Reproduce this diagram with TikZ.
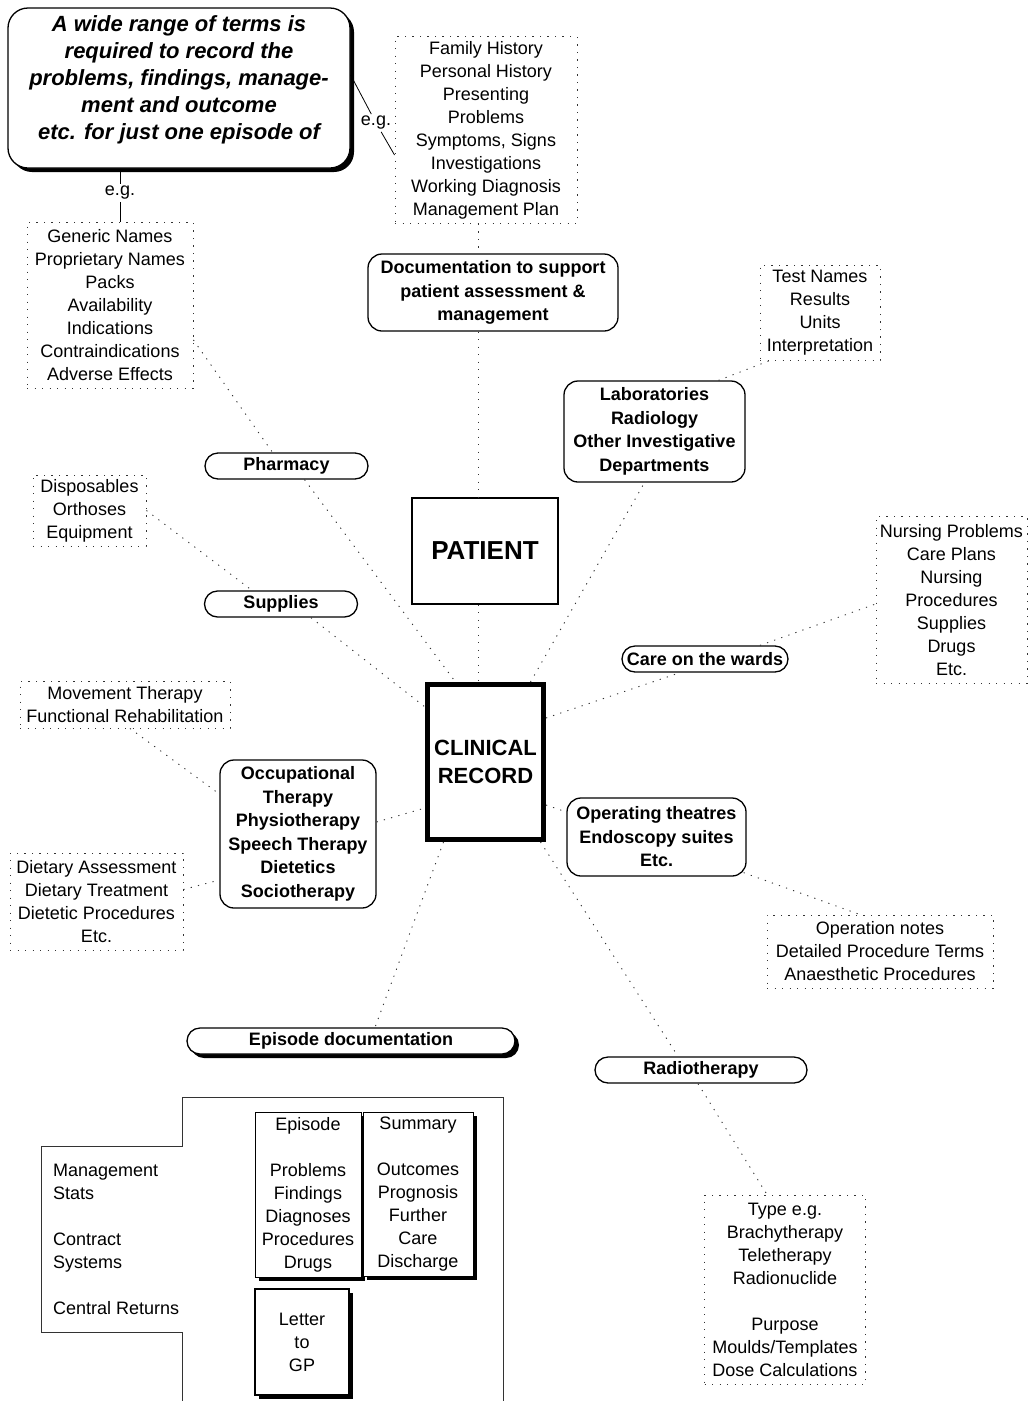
\documentclass[tikz,border=0pt]{standalone}
\usepackage{fontspec}
\setmainfont{Liberation Sans}
\usetikzlibrary{calc,shadows}
\newcommand\plaintext{\fontsize{18}{23}\selectfont}
\newcommand\boldtext{\fontsize{18}{23.5}\selectfont\bfseries}
\tikzset{
  dotbox/.style={draw=black!80, line width=0.9pt, dash pattern=on 1.2pt off 6.3pt, align=center, inner sep=0pt, font=\plaintext},
  dotline/.style={draw=black!80, line width=0.9pt, dash pattern=on 1.2pt off 6.3pt},
  roundbox/.style={draw, line width=1.3pt, rounded corners=14pt, align=center, inner sep=0pt, font=\boldtext},
  pill/.style={draw, line width=1.3pt, rounded corners=13pt, minimum height=26pt, inner sep=0pt, font=\boldtext},
  blackshadow/.style={fill=white, drop shadow={shadow xshift=4pt, shadow yshift=-4pt, fill=black, opacity=1}},
  shadowbox/.style={draw, line width=1pt, align=center, inner sep=0pt, font=\plaintext, blackshadow},
}
\begin{document}
\begin{tikzpicture}[x=1pt,y=-1pt]
\useasboundingbox (0,0) rectangle (1029,1401);
\coordinate (axis) at (478,0);
\node (head) [draw, line width=1.3pt, rounded corners=20pt, blackshadow, minimum width=342pt, minimum height=160pt, inner sep=0pt, align=center, font=\fontsize{22}{27}\selectfont\bfseries\itshape] at (179,88) {A wide range of terms is\\required to record the\\problems, findings, manage-\\ment and outcome\\etc. for just one episode of\\[-6pt]\mbox{}};
\node (eg1) [font=\plaintext, inner sep=2pt] at (376,123) {e.g.};
\node (eg2) [font=\plaintext, inner sep=2pt] at (120,193) {e.g.};
\node (fam) [dotbox, minimum width=182pt, minimum height=187pt] at (486,130) {Family History\\Personal History\\Presenting\\Problems\\Symptoms, Signs\\Investigations\\Working Diagnosis\\Management Plan};
\node (gen) [dotbox, minimum width=166pt, minimum height=166pt] at (110,305) {Generic Names\\Proprietary Names\\Packs\\Availability\\Indications\\Contraindications\\Adverse Effects};
\node (doc) [roundbox, minimum width=250pt, minimum height=77pt] at (493,292.5) {Documentation to support\\patient assessment \&\\management};
\node (test) [dotbox, minimum width=120pt, minimum height=95pt] at (820,312.5) {Test Names\\Results\\Units\\Interpretation};
\node (lab) [roundbox, minimum width=181pt, minimum height=101pt] at (654.5,431.5) {Laboratories\\Radiology\\Other Investigative\\Departments};
\node (pharm) [pill, minimum width=163pt] at (286.5,466) {Pharmacy};
\node (disp) [dotbox, minimum width=113pt, minimum height=71pt] at (89.5,510.5) {Disposables\\Orthoses\\Equipment};
\node (pat) [draw, line width=1.5pt, minimum width=146pt, minimum height=106pt, font=\fontsize{26}{30}\selectfont\bfseries] at (485,551) {PATIENT};
\node (supp) [pill, minimum width=153pt] at (281,604) {Supplies};
\node (nurs) [dotbox, minimum width=151pt, minimum height=167pt] at (951.5,600) {Nursing Problems\\Care Plans\\Nursing\\Procedures\\Supplies\\Drugs\\Etc.};
\node (care) [pill, minimum width=166pt] at (705,659) {Care on the wards};
\node (move) [dotbox, minimum width=210pt, minimum height=47pt] at (125,704.5) {Movement Therapy\\Functional Rehabilitation};
\node (clin) [draw, line width=5pt, minimum width=116pt, minimum height=155pt, align=center, font=\fontsize{22}{28}\selectfont\bfseries] at (485.5,762) {CLINICAL\\RECORD};
\node (occ) [roundbox, minimum width=156pt, minimum height=148pt] at (298,834) {Occupational\\Therapy\\Physiotherapy\\Speech Therapy\\Dietetics\\Sociotherapy};
\node (oper) [roundbox, minimum width=179pt, minimum height=78pt] at (656.5,837) {Operating theatres\\Endoscopy suites\\Etc.};
\node (diet) [dotbox, minimum width=173pt, minimum height=97pt] at (96.5,901.5) {Dietary Assessment\\Dietary Treatment\\Dietetic Procedures\\Etc.};
\node (operbox) [dotbox, minimum width=226pt, minimum height=73pt] at (880,951.5) {Operation notes\\Detailed Procedure Terms\\Anaesthetic Procedures};
\node (epis) [pill, blackshadow, minimum width=328pt] at (351,1041) {Episode documentation};
\node (radio) [pill, minimum width=212pt] at (701,1070) {Radiotherapy};
\node (radiobox) [dotbox, minimum width=161pt, minimum height=189pt] at (785,1289.5) {Type e.g.\\Brachytherapy\\Teletherapy\\Radionuclide\\[23pt]Purpose\\Moulds/Templates\\Dose Calculations};
\draw [line width=1pt, black!80] (182,1401) -- (182,1332) -- (41,1332) -- (41,1146) -- (182,1146) -- (182,1097) -- (503,1097) -- (503,1401);
\node (stats) [anchor=base west, align=left, inner sep=0pt, font=\plaintext] at (53,1314) {Management\\Stats\\[23pt]Contract\\Systems\\[23pt]Central Returns};
\node (epi) [shadowbox, minimum width=106pt, minimum height=165pt] at (308,1194.5) {Episode\\[23pt]Problems\\Findings\\Diagnoses\\Procedures\\Drugs};
\node (summ) [shadowbox, minimum width=110pt, minimum height=164pt] at (418,1194) {Summary\\[23pt]Outcomes\\Prognosis\\Further\\Care\\Discharge};
\node (letter) [shadowbox, line width=1.5pt, minimum width=94pt, minimum height=106pt] at (302,1342) {Letter\\to\\GP};
\draw [line width=0.8pt] ($(head.east)+(0,-13)$) -- (eg1) -- ($(fam.west)+(0,25)$);
\draw [line width=0.8pt] (head.south -| eg2) -- (eg2) -- (eg2 |- gen.north);
\draw [dotline] (fam.south -| axis) -- (doc.north -| axis);
\draw [dotline] (doc.south -| axis) -- (pat.north -| axis);
\draw [dotline] (pat.south -| axis) -- (clin.north -| axis);
\draw [dotline] ($(gen.east)+(0,35)$) -- ($(pharm.north)+(-14,0)$);
\draw [dotline] ($(pharm.south)+(18,0)$) -- ($(clin.north)+(-30,0)$);
\draw [dotline] (disp.east) -- ($(supp.north)+(-29,0)$);
\draw [dotline] ($(supp.south)+(30,0)$) -- ($(clin.west)+(0,-55)$);
\draw [dotline] ($(move.south)+(5,0)$) -- ($(occ.west)+(0,-40)$);
\draw [dotline] ($(diet.east)+(0,-12)$) -- ($(occ.west)+(0,46)$);
\draw [dotline] ($(occ.east)+(0,-12)$) -- ($(clin.west)+(0,46)$);
\draw [dotline] ($(clin.north)+(45,0)$) -- ($(lab.south)+(-10,0)$);
\draw [dotline] ($(lab.north)+(64,0)$) -- ($(test.south)+(-50,0)$);
\draw [dotline] ($(clin.east)+(0,-44)$) -- ($(care.south)+(-25,0)$);
\draw [dotline] ($(care.north)+(55,0)$) -- ($(nurs.west)+(0,4)$);
\draw [dotline] ($(clin.east)+(0,43)$) -- ($(oper.west)+(0,-25)$);
\draw [dotline] ($(oper.south east)+(-3,-4)$) -- ($(operbox.north)+(-20,0)$);
\draw [dotline] ($(clin.south)+(55,0)$) -- ($(radio.north)+(-23,0)$);
\draw [dotline] ($(radio.south)+(-3,0)$) -- ($(radiobox.north)+(-18,0)$);
\draw [dotline] ($(clin.south)+(-42,0)$) -- ($(epis.north)+(24,0)$);
\end{tikzpicture}
\end{document}
